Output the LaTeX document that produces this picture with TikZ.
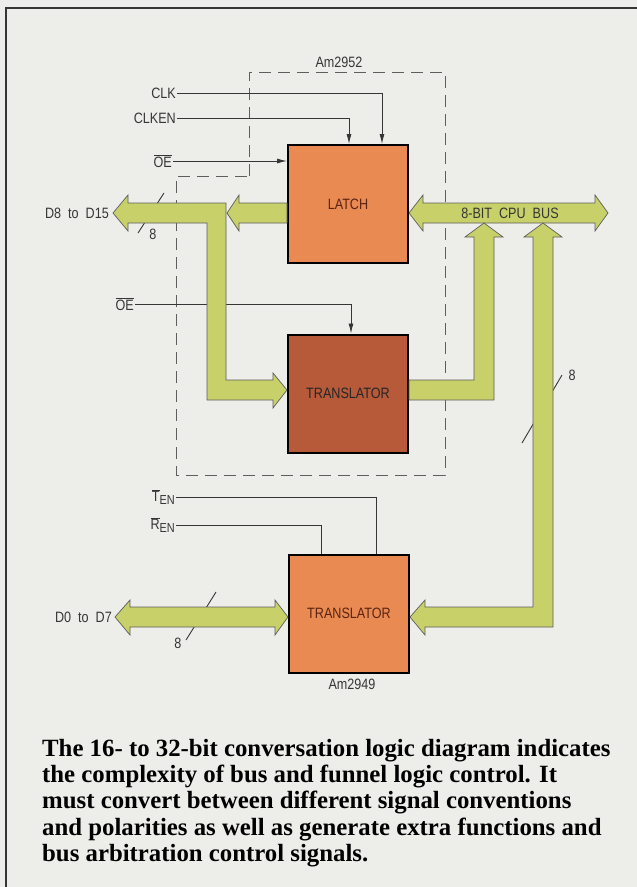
\documentclass[tikz,border=0pt]{standalone}
\usepackage{fontspec}
\usetikzlibrary{arrows.meta}
\newfontfamily\lab[FakeStretch=0.84]{Liberation Sans}
\newfontfamily\capf{Liberation Serif}
\definecolor{bgc}{HTML}{EDEDEA}
\definecolor{busg}{HTML}{C8D06A}
\definecolor{latchc}{HTML}{E98A52}
\definecolor{transc}{HTML}{B65A3A}
\definecolor{ink}{HTML}{363636}
\definecolor{boxtxt}{HTML}{5A2412}
\tikzset{
  lbl/.style={font=\lab\fontsize{15}{17}\selectfont, text=ink, inner sep=1pt},
  blk/.style={draw=black, line width=2pt, minimum width=120pt, minimum height=118pt,
     font=\lab\fontsize{15}{17}\selectfont, text=boxtxt, inner sep=0pt},
  ctl/.style={draw=ink, line width=0.9pt},
  ctlarrow/.style={ctl, -{Latex[length=10pt,width=5pt]}},
  bus/.style={fill=busg, draw=ink!80, line width=0.7pt, line join=miter},
  dashbox/.style={draw=ink!80, line width=1pt, dash pattern=on 12pt off 7pt},
  capline/.style={font=\capf\bfseries\fontsize{24.8}{26}\selectfont, text=black, anchor=base west, inner sep=0pt}
}
\begin{document}
\begin{tikzpicture}[x=1pt,y=-1pt]
\useasboundingbox (0,0) rectangle (637,887);
\fill[bgc] (0,0) rectangle (637,887);
\draw[ink, line width=2pt] (6,887) -- (6,8) -- (637,8);

% blocks
\node[blk, fill=latchc] (latch) at (348,204) {LATCH};
\node[blk, fill=transc, text=black!85] (tr1) at (348,393.5) {TRANSLATOR};
\node[blk, fill=latchc] (tr2) at (349,613.5) {TRANSLATOR};

% dashed Am2952 outline
\draw[dashbox] (249,176) -- (249,72) -- (445,72) -- (445,475) -- (176,475) -- (176,176) -- cycle;
\node[lbl] (am2952) at (339,62) {Am2952};
\node[lbl] (am2949) at (352,684) {Am2949};

% control labels
\node[lbl, anchor=east] (clk) at (177,93) {CLK};
\node[lbl, anchor=east] (clken) at (177,118) {CLKEN};
\node[lbl, anchor=east] (oe1) at (173,161) {$\overline{\hbox{\lab\fontsize{15}{17}\selectfont OE}}$};
\node[lbl, anchor=east] (oe2) at (135,304) {$\overline{\hbox{\lab\fontsize{15}{17}\selectfont OE}}$};
\node[lbl, anchor=east] (ten) at (176,497) {$\overline{\hbox{\lab\fontsize{15}{17}\selectfont T}}$\raisebox{-2.5pt}{\fontsize{13}{15}\selectfont EN}};
\node[lbl, anchor=east] (ren) at (176,525) {$\overline{\hbox{\lab\fontsize{15}{17}\selectfont R}}$\raisebox{-2.5pt}{\fontsize{13}{15}\selectfont EN}};

% control lines
\draw[ctlarrow] (clk.east) -| ([xshift=95pt]latch.north west);
\draw[ctlarrow] (clken.east) -| ([xshift=62pt]latch.north west);
\draw[ctlarrow] (oe1.east) -- (oe1.east -| latch.west);
\draw[ctlarrow] (oe2.east) -| ([xshift=64pt]tr1.north west);
\draw[ctl] (ten.east) -| ([xshift=88pt]tr2.north west);
\draw[ctl] (ren.east) -| ([xshift=33pt]tr2.north west);

% bus width slashes
\draw[ctl] (138,233) -- (164,193);
\draw[ctl] (522,443) -- (562,375);
\draw[ctl] (186,640) -- (216,592);
\node[lbl] (n8a) at (153,234) {8};
\node[lbl] (n8b) at (572,375) {8};
\node[lbl] (n8c) at (178,643) {8};

% buses
\path[bus] (113,213) -- (128,195) -- (128,203) -- (226,203) -- (226,380) -- (273,380) -- (273,373)
  -- (tr1.west |- 0,390) -- (273,408) -- (273,400) -- (207,400) -- (207,223) -- (128,223) -- (128,231) -- cycle;
\path[bus] (227,213) -- (239,195) -- (239,203) -- (latch.west |- 0,203) -- (latch.west |- 0,223) -- (239,223) -- (239,231) -- cycle;
\path[bus] (latch.east |- 0,213) -- (423,195) -- (423,203) -- (595,203) -- (595,195) -- (608,213) -- (595,231) -- (595,223)
  -- (423,223) -- (423,231) -- cycle;
\path[bus] (tr1.east |- 0,380) -- (474,380) -- (474,237) -- (465,237) -- (484,223) -- (503,237) -- (494,237) -- (494,400) -- (tr1.east |- 0,400) -- cycle;
\path[bus] (tr2.east |- 0,617) -- (425,600) -- (425,607) -- (533,607) -- (533,237) -- (524,237) -- (543,223) -- (562,237)
  -- (553,237) -- (553,627) -- (425,627) -- (425,635) -- cycle;
\path[bus] (115,617) -- (130,600) -- (130,607) -- (275,607) -- (275,600) -- (tr2.west |- 0,617) -- (275,635) -- (275,627)
  -- (130,627) -- (130,635) -- cycle;

\node[lbl] (cpubus) at (510,213) {8-BIT\ \ CPU\ \ BUS};
\node[lbl, anchor=east] (d815) at (110,213) {D8\ \ to\ \ D15};
\node[lbl, anchor=east] (d07) at (113,617) {D0\ \ to\ \ D7};

% caption
\node[capline] (cap1) at (42,756) {The 16- to 32-bit conversation logic diagram indicates};
\node[capline] (cap2) at (42,782) {the complexity of bus and funnel logic control. It};
\node[capline] (cap3) at (42,808) {must convert between different signal conventions};
\node[capline] (cap4) at (42,835) {and polarities as well as generate extra functions and};
\node[capline] (cap5) at (42,861) {bus arbitration control signals.};
\end{tikzpicture}
\end{document}
